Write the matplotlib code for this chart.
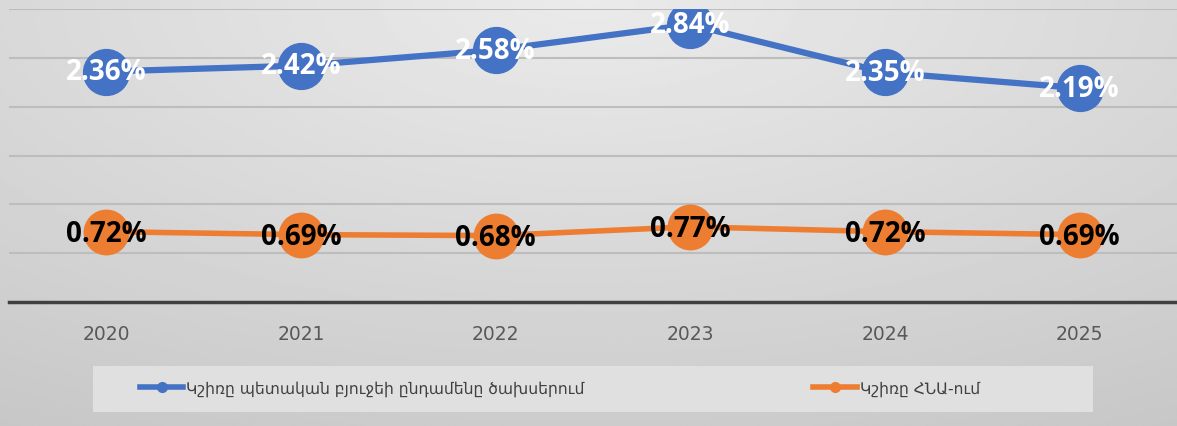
import numpy as np
import matplotlib.pyplot as plt
from matplotlib.lines import Line2D
from matplotlib.patches import Rectangle

# data
years = ['2020', '2021', '2022', '2023', '2024', '2025']
budget_share = [2.36, 2.42, 2.58, 2.84, 2.35, 2.19]
gdp_share = [0.72, 0.69, 0.68, 0.77, 0.72, 0.69]
budget_label = 'Կշիռը պետական բյուջեի ընդամենը ծախսերում'
gdp_label = 'Կշիռը ՀՆԱ-ում'

blue = '#4472C4'
orange = '#ED7D31'

W, H = 1177, 427
fig = plt.figure(figsize=(W / 100, H / 100), dpi=100)

# soft gray gradient background
bg = fig.add_axes([0, 0, 1, 1], zorder=-10)
yy, xx = np.mgrid[0:1:200j, 0:1:400j]
dist = np.sqrt(((xx - 0.5) * 1.2) ** 2 + (yy * 1.0) ** 2)
shade = 0.92 - 0.12 * dist
bg.imshow(shade, cmap='gray', vmin=0, vmax=1, aspect='auto',
          extent=[0, 1, 0, 1], origin='upper', interpolation='bilinear')
bg.set_axis_off()

ax = fig.add_axes([9 / W, 1 - 303 / H, 1 - 9 / W, (303 - 10) / H])
ax.patch.set_alpha(0)
x = np.arange(len(years))

ax.set_ylim(0, 3)
ax.set_xlim(-0.5, len(years) - 0.5)
ax.set_yticks(np.arange(0.5, 3.01, 0.5))
ax.yaxis.grid(True, color='#bdbdbd', linewidth=1.5)
ax.set_axisbelow(True)
for side in ['top', 'right', 'left']:
    ax.spines[side].set_visible(False)
ax.spines['bottom'].set_color('#404040')
ax.spines['bottom'].set_linewidth(2.5)
ax.tick_params(axis='y', left=False, labelleft=False)
ax.tick_params(axis='x', length=0, pad=16, labelsize=13.5, labelcolor='#595959')
ax.set_xticks(x)
ax.set_xticklabels(years)

ax.plot(x, budget_share, color=blue, linewidth=4.5, marker='o',
        markersize=33, solid_capstyle='round')
ax.plot(x, gdp_share, color=orange, linewidth=4, marker='o',
        markersize=32, solid_capstyle='round')

for xi, v in zip(x, budget_share):
    ax.text(xi, v, f'{v:.2f}%', ha='center', va='center', color='white',
            fontsize=20, fontweight='bold', family='Open Sans')
for xi, v in zip(x, gdp_share):
    ax.text(xi, v - 0.02, f'{v:.2f}%', ha='center', va='center', color='black',
            fontsize=20, fontweight='bold', family='Open Sans')

# legend box
fig.patches.append(Rectangle((93 / W, 1 - 413 / H), 1000 / W, 46 / H,
                             transform=fig.transFigure, facecolor='#e0e0e0',
                             edgecolor='none', zorder=1))
handles = [
    Line2D([], [], color=blue, linewidth=4, marker='o', markersize=7),
    Line2D([], [], color=orange, linewidth=4, marker='o', markersize=7),
]
fig.legend(handles, [budget_label, gdp_label], loc='center',
           bbox_to_anchor=(560 / W, 1 - 389 / H), ncol=2, frameon=False,
           prop={'family': 'DejaVu Sans', 'size': 11.2}, labelcolor='#404040',
           handlelength=2.8, handletextpad=0.2, columnspacing=14.7)

fig.savefig('out.png', dpi=100)
